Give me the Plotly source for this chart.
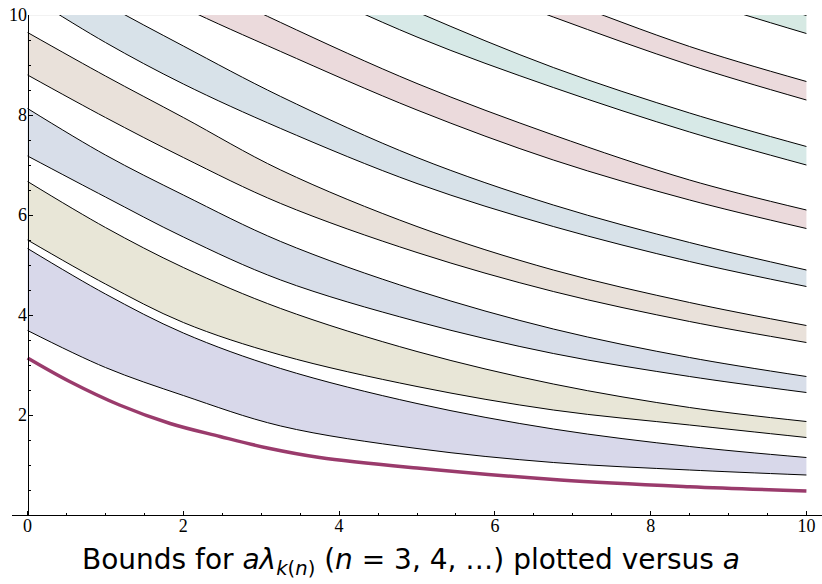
import numpy as np
import plotly.graph_objects as go

# parameter a (x positions where band values were read)
a_vals = [0, 1, 2, 3.25, 5, 6.75, 8.5, 10]

# thick curve (read at its own positions)
thick_a = [0, 0.54, 1.18, 1.83, 2.47, 3.11, 3.75, 5, 6.84, 8.5, 10]
thick_y = [3.14, 2.67, 2.20, 1.83, 1.57, 1.33, 1.15, 0.94, 0.70, 0.566, 0.48]

# band bounds (lower, upper) for successive n
b1_lo = [3.69, 2.95, 2.39, 1.78, 1.33, 1.05, 0.90, 0.80]
b1_hi = [5.33, 4.42, 3.64, 2.93, 2.23, 1.72, 1.37, 1.15]
b2_lo = [5.50, 4.62, 3.85, 3.20, 2.57, 2.10, 1.80, 1.55]
b2_hi = [6.67, 5.75, 4.95, 4.13, 3.27, 2.62, 2.15, 1.87]
b3_lo = [7.18, 6.36, 5.56, 4.70, 3.87, 3.23, 2.77, 2.45]
b3_hi = [8.13, 7.20, 6.40, 5.47, 4.49, 3.72, 3.15, 2.77]
b4_lo = [8.80, 7.95, 7.15, 6.23, 5.25, 4.47, 3.87, 3.45]
b4_hi = [9.65, 8.78, 7.95, 6.90, 5.77, 4.90, 4.25, 3.79]
b5_lo = [10.40, 9.45, 8.62, 7.73, 6.63, 5.77, 5.07, 4.57]
b5_hi = [11.15, 10.22, 9.38, 8.37, 7.15, 6.20, 5.45, 4.90]
b6_lo = [11.85, 10.95, 10.15, 9.27, 8.10, 7.10, 6.30, 5.73]
b6_hi = [12.60, 11.70, 10.80, 9.85, 8.63, 7.60, 6.70, 6.10]
b7_lo = [13.60, 12.70, 11.80, 10.80, 9.56, 8.55, 7.66, 7.00]
b7_hi = [14.10, 13.20, 12.30, 11.30, 10.06, 8.95, 8.04, 7.37]
b8_lo = [14.60, 13.80, 13.00, 12.10, 11.00, 9.96, 9.00, 8.30]
b8_hi = [15.00, 14.20, 13.40, 12.50, 11.40, 10.37, 9.37, 8.67]
b9_lo = [15.80, 15.00, 14.20, 13.40, 12.30, 11.30, 10.35, 9.63]
b9_hi = [16.20, 15.40, 14.60, 13.80, 12.70, 11.70, 10.72, 9.99]

bands = [
    (b1_lo, b1_hi, "#d8d8ea"),
    (b2_lo, b2_hi, "#e8e6d7"),
    (b3_lo, b3_hi, "#d8dee9"),
    (b4_lo, b4_hi, "#e9e1da"),
    (b5_lo, b5_hi, "#d8e2e9"),
    (b6_lo, b6_hi, "#ebdadc"),
    (b7_lo, b7_hi, "#d7e9e7"),
    (b8_lo, b8_hi, "#ebdadc"),
    (b9_lo, b9_hi, "#d6e9e3"),
]

fig = go.Figure()

for lo, hi, col in bands:
    fig.add_trace(go.Scatter(
        x=a_vals, y=lo, mode="lines",
        line=dict(color="black", width=1, shape="spline"),
        hoverinfo="skip", showlegend=False))
    fig.add_trace(go.Scatter(
        x=a_vals, y=hi, mode="lines", fill="tonexty", fillcolor=col,
        line=dict(color="black", width=1, shape="spline"),
        hoverinfo="skip", showlegend=False))

fig.add_trace(go.Scatter(
    x=thick_a, y=thick_y, mode="lines",
    line=dict(color="#9a3b6c", width=3.5, shape="spline"),
    hoverinfo="skip", showlegend=False))

# faint top frame line at y = 10
fig.add_shape(type="line", xref="x", yref="y", x0=0, x1=10, y0=10, y1=10,
              line=dict(color="#e6e6e6", width=1), layer="below")

tick_font = dict(family="Liberation Serif", size=18, color="black")
x_minor = [v for v in np.arange(0, 10.01, 0.5) if v % 2 != 0]
y_minor = [v for v in np.arange(0.5, 10.01, 0.5) if v % 2 != 0]

fig.update_layout(
    width=822, height=584,
    margin=dict(l=12, r=0, t=15, b=69),
    paper_bgcolor="white", plot_bgcolor="white",
    template="none",
    showlegend=False,
    title=dict(
        text="Bounds for <i>aλ</i><sub><i>k</i>(<i>n</i>)</sub> (<i>n</i> = 3, 4, …) plotted versus <i>a</i>",
        font=dict(family="DejaVu Sans", size=28, color="black"),
        x=0.5, xref="container", xanchor="center",
        y=0.042, yref="container", yanchor="middle"),
    xaxis=dict(
        range=[-0.2, 10.2], showgrid=False, zeroline=False,
        showline=True, linecolor="black", linewidth=1,
        tickmode="array", tickvals=[0, 2, 4, 6, 8, 10],
        ticks="inside", ticklen=4.5, tickwidth=1, tickcolor="black",
        minor=dict(tickvals=x_minor, ticks="inside", ticklen=2.5,
                   tickwidth=1, tickcolor="black"),
        ticklabelstandoff=-6,
        tickfont=tick_font, automargin=False),
    yaxis=dict(
        range=[0, 10], showgrid=False, zeroline=False,
        anchor="free", position=(0 - (-0.2)) / 10.4,
        showline=True, linecolor="black", linewidth=1,
        tickmode="array", tickvals=[2, 4, 6, 8, 10],
        ticks="inside", ticklen=4.5, tickwidth=1, tickcolor="black",
        minor=dict(tickvals=y_minor, ticks="inside", ticklen=2.5,
                   tickwidth=1, tickcolor="black"),
        ticklabelstandoff=-3,
        tickfont=tick_font, automargin=False),
)

fig.write_html("out.html",
               config={"displayModeBar": False},
               post_script="document.body.style.margin='0px';")
